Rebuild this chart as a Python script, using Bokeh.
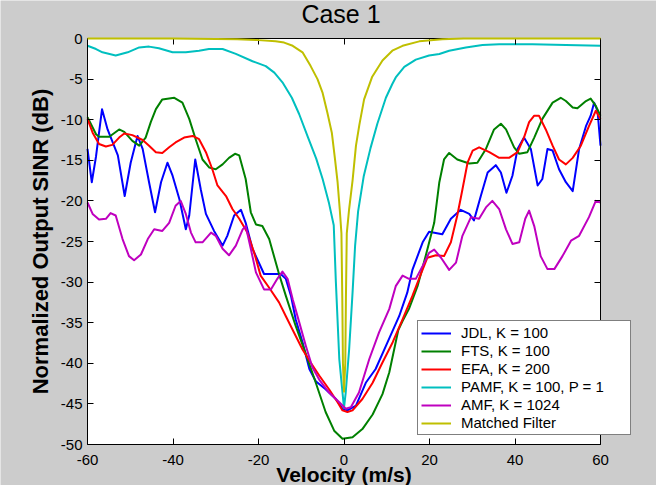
from bokeh.plotting import figure
from bokeh.models import (Range1d, LinearAxis, FixedTicker, Legend, LegendItem,
                          BoxAnnotation, Label)
from bokeh.core.properties import value
from bokeh.embed import file_html
from bokeh.resources import INLINE
import math

FONT = "Liberation Sans"

x_ticks = [-60, -40, -20, 0, 20, 40, 60]
y_ticks = [-50, -45, -40, -35, -30, -25, -20, -15, -10, -5, 0]

title_text = "Case 1"
x_label_text = "Velocity (m/s)"
y_label_text = "Normalized Output SINR (dB)"

series_names = ["JDL, K = 100", "FTS, K = 100", "EFA, K = 200",
                "PAMF, K = 100, P = 1", "AMF, K = 1024", "Matched Filter"]
series_colors = ["#0000ff", "#008000", "#ff0000", "#00bfbf", "#bf00bf", "#bfbf00"]

jdl_x = [-60, -59, -58, -56.6, -55.3, -52.9, -51.3, -49.9, -48.3, -47.1, -45.6, -44.2,
         -42.8, -41.3, -40.1, -38.5, -37, -36.2, -34.8, -33.5, -32.3, -30.4, -28.4,
         -27.3, -25.7, -24.1, -23, -21.4, -18.7, -14.8, -13.6, -12.4, -11.3, -9.7,
         -8.1, -6.6, -4.3, -1.9, -0.35, 0.8, 2.8, 5.1, 7.4, 10.2, 12.9, 14.8, 16,
         18.4, 19.9, 23, 25, 27.3, 29.3, 30.4, 32, 33.6, 35.5, 36.7, 38, 39.4, 40.6,
         42.1, 43.7, 45.3, 46.4, 47.6, 48.8, 50.3, 51.9, 53.5, 55, 56.6, 57.7, 58.5,
         59.3, 60]
jdl_y = [-13.6, -17.7, -14.5, -8.7, -11.2, -14.4, -19.4, -15.3, -12.0, -13.6, -17.7,
         -21.4, -17.7, -15.3, -16.9, -19.8, -23.5, -21.8, -14.9, -18.6, -21.6, -23.7,
         -25.5, -24.3, -21.8, -21.1, -22.7, -25.9, -29.0, -29.0, -29.6, -31.7, -34.6,
         -37.4, -40.7, -42.2, -43.2, -44.4, -45.6, -45.8, -45.2, -42.4, -40.7, -37.4,
         -34.2, -31.3, -28.5, -25.1, -23.8, -24.1, -22.2, -21.1, -21.6, -22.4, -19.4,
         -16.5, -15.6, -16.5, -19.0, -16.9, -13.6, -12.2, -13.6, -18.1, -17.3, -13.6,
         -13.8, -16.1, -17.7, -18.8, -13.6, -10.8, -9.5, -7.9, -8.9, -13.2]

fts_x = [-60, -58, -57.3, -54.9, -52.6, -51.4, -49.5, -47.9, -46.4, -45.2, -44, -42.5,
         -39.7, -37.8, -36.2, -34.7, -33.1, -31.5, -30, -28.4, -26.9, -25.5, -24.5,
         -23, -21.8, -20.6, -19.1, -17.5, -15.2, -13.6, -11.3, -8.9, -6.6, -4.3,
         -2.3, -0.35, 2, 4.3, 6.7, 9, 10.6, 12.7, 13.7, 15.2, 17.2, 19.1, 21.1, 22.3,
         23.4, 24.6, 26.5, 29.3, 31.2, 33.2, 35.1, 36.7, 37.9, 39.8, 41, 42.9, 44.5,
         46.4, 48.8, 50.7, 51.9, 53.5, 54.6, 56.6, 57.7, 58.9, 60]
fts_y = [-9.7, -11.8, -12.1, -12.1, -11.2, -11.5, -12.6, -13.2, -12.2, -10.3, -8.7,
         -7.5, -7.3, -7.9, -9.9, -12.4, -14.9, -15.9, -16.1, -15.5, -14.7, -14.2,
         -14.4, -17.3, -21.4, -22.9, -23.1, -24.7, -29.0, -31.7, -35.4, -38.9, -42.4,
         -46.0, -48.3, -49.3, -49.1, -48.1, -46.3, -43.8, -41.1, -35.9, -34.8, -33.3,
         -30.5, -26.8, -22.7, -17.7, -14.9, -14.1, -14.9, -15.4, -15.3, -13.6, -11.2,
         -10.5, -11.2, -13.4, -14.2, -14.0, -12.2, -9.9, -7.9, -7.3, -7.7, -8.5, -8.6,
         -7.7, -7.4, -8.3, -9.5]

efa_x = [-60, -58.8, -57.3, -55.7, -54.2, -52.6, -51.4, -49.5, -47.1, -45.6, -44, -42.5,
         -40.9, -39.4, -37.4, -35.4, -33.9, -32.3, -30.8, -29.6, -27.6, -26.1, -24.5,
         -22.6, -21.0, -19.5, -17.5, -15.2, -13.6, -11.7, -9.7, -7.8, -5.8, -3.5, -1.5,
         -0.35, 0.8, 2, 4.3, 6.7, 9, 11.4, 13.7, 16, 18, 19.5, 21.5, 23.4, 25, 26.5,
         27.7, 28.9, 30.1, 31.6, 34, 36.3, 38.6, 40.6, 42.1, 43.3, 44.5, 45.6, 47.2,
         48.8, 50.3, 51.9, 53.5, 55.4, 57.3, 58.9, 60]
efa_y = [-9.9, -11.6, -13.0, -13.3, -13.1, -12.2, -11.7, -11.9, -12.5, -13.2, -14.0,
         -14.1, -13.4, -12.8, -12.2, -12.0, -12.4, -14.0, -16.1, -18.1, -19.4, -21.0,
         -22.2, -23.9, -26.4, -29.2, -30.7, -32.5, -34.2, -36.2, -38.3, -39.9, -41.5,
         -43.2, -44.8, -45.8, -46.0, -45.8, -44.4, -42.4, -39.9, -37.4, -34.6, -31.7,
         -29.0, -27.0, -26.7, -26.8, -25.1, -21.8, -18.6, -15.3, -13.8, -13.4, -14.0,
         -14.7, -14.7, -14.0, -12.2, -10.3, -9.5, -9.5, -11.2, -13.2, -14.9, -15.5,
         -14.7, -13.2, -10.8, -8.9, -9.9]

pamf_x = [-60, -58, -56.5, -53.4, -50.6, -47.9, -45.6, -43.3, -40.1, -37, -33.9, -31.6,
          -28.4, -25.3, -21.4, -18.3, -16.3, -14.4, -12.2, -10.5, -8.4, -6.5, -5.0,
          -3.5, -2.4, -1.9, -1.1, -0.35, 0, 0.4, 1.2, 2.0, 2.6, 3.3, 4.6, 6.2, 7.8,
          9.8, 11.3, 12.1, 14.1, 16.8, 19.9, 22.3, 24.6, 28.5, 32.4, 36.3, 44.1, 51.9, 60]
pamf_y = [-0.9, -1.3, -1.7, -2.1, -1.7, -1.1, -1.0, -1.2, -1.7, -1.7, -1.5, -1.3, -1.3,
          -1.9, -2.8, -3.4, -4.2, -5.4, -7.3, -9.3, -12.2, -14.8, -17.3, -20.3, -23.0,
          -30.0, -39.5, -43.6, -45.5, -43.6, -38.3, -31.3, -25.5, -21.3, -17.0, -13.5,
          -10.5, -7.3, -5.6, -4.8, -3.5, -2.6, -2.1, -1.9, -1.5, -1.1, -0.8, -0.7, -0.7,
          -0.8, -0.9]

amf_x = [-60, -58.8, -57.3, -55.7, -54.6, -53.4, -51.8, -50.3, -49.1, -47.5, -45.9,
         -44.4, -42.5, -40.9, -39.4, -38.2, -37, -35.8, -34.7, -33.1, -31.1, -30, -28.4,
         -26.9, -25.3, -23.7, -23, -21.8, -20.6, -18.7, -17.1, -15.6, -14.4, -13.2, -12,
         -10.5, -8.9, -7.4, -5.8, -3.5, -1.1, 0.4, 1.6, 3.5, 5.9, 8.2, 10.6, 12.1, 13.7,
         15.2, 16.8, 18.4, 19.9, 21.1, 22.7, 24.6, 26.2, 27.7, 29.7, 31.6, 33.2, 34.7,
         36.3, 37.9, 39.4, 41, 42.4, 43.3, 44.5, 46, 47.6, 49.2, 51.1, 53.1, 55, 57.3,
         58.9, 60]
amf_y = [-20.2, -21.6, -22.3, -22.2, -21.5, -21.8, -24.7, -26.8, -27.3, -26.6, -24.7,
         -23.5, -23.7, -22.7, -20.6, -20.0, -21.6, -23.9, -25.1, -25.1, -23.9, -24.3,
         -25.9, -26.7, -25.5, -23.5, -23.1, -25.9, -28.8, -30.9, -30.9, -29.6, -28.7,
         -29.6, -32.1, -34.9, -37.9, -40.5, -42.0, -43.6, -44.8, -45.6, -45.4, -43.6,
         -39.5, -36.2, -33.3, -30.5, -29.2, -29.6, -29.6, -28.0, -26.4, -26.0, -27.0,
         -28.5, -27.6, -24.3, -22.0, -22.2, -20.8, -20.0, -21.0, -23.5, -25.3, -25.1,
         -22.2, -21.2, -23.1, -26.8, -28.4, -28.4, -26.8, -24.9, -24.3, -22.0, -20.0,
         -20.2]

mf_x = [-60, -40, -30, -25, -20, -16, -14, -12, -9.7, -7.8, -6.2, -5.0, -3.9, -2.85,
        -2.1, -1.5, -1.0, -0.6, -0.4, -0.25, 0, 0.3, 0.45, 0.65, 1.2, 2.0, 2.8, 3.6,
        4.7, 6.6, 9.0, 11.3, 13.7, 17.6, 23, 28, 60]
mf_y = [0, 0, -0.05, -0.1, -0.2, -0.35, -0.5, -0.9, -1.7, -3.4, -5.0, -6.7, -9.1, -11.6,
        -14.9, -17.7, -21.0, -24.0, -32.0, -40.0, -43.5, -40.0, -32.0, -24.0, -21.0,
        -17.5, -13.2, -10.6, -7.5, -4.7, -2.7, -1.5, -0.9, -0.35, -0.1, 0, 0]

series_x = [jdl_x, fts_x, efa_x, pamf_x, amf_x, mf_x]
series_y = [jdl_y, fts_y, efa_y, pamf_y, amf_y, mf_y]

# ---- layout (canvas pixels) ----
FIG_W, FIG_H = 656, 485
BOX_L, BOX_R, BOX_T, BOX_B = 87, 600, 38, 444      # the axes box inside the canvas
GRAY = "#cccccc"

x_lo, x_hi = x_ticks[0], x_ticks[-1]
y_lo, y_hi = y_ticks[0], y_ticks[-1]
ppx = (BOX_R - BOX_L) / (x_hi - x_lo)               # pixels per x unit
ppy = (BOX_B - BOX_T) / (y_hi - y_lo)               # pixels per y unit
# the frame covers the whole canvas, so nothing (legend, labels) gets clipped
x_range = Range1d(x_lo - BOX_L / ppx, x_hi + (FIG_W - BOX_R) / ppx)
y_range = Range1d(y_lo - (FIG_H - BOX_B) / ppy, y_hi + BOX_T / ppy)

p = figure(width=FIG_W, height=FIG_H, output_backend="svg", toolbar_location=None,
           x_range=x_range, y_range=y_range,
           min_border_left=0, min_border_right=0, min_border_top=0, min_border_bottom=0,
           background_fill_color=GRAY, border_fill_color=GRAY,
           x_axis_location=None, y_axis_location=None)
p.grid.visible = False
p.outline_line_color = None

# white axes area
p.add_layout(BoxAnnotation(left=x_lo, right=x_hi, bottom=y_lo, top=y_hi,
                           fill_color="white", fill_alpha=1.0,
                           line_color=None, level="underlay"))


def make_axis(ticks, bounds, loc):
    ax = LinearAxis(fixed_location=loc)
    ax.ticker = FixedTicker(ticks=ticks)
    ax.bounds = bounds
    ax.major_tick_in = 6
    ax.major_tick_out = 0
    ax.minor_tick_line_color = None
    ax.axis_line_color = "black"
    ax.axis_line_width = 1
    ax.major_tick_line_color = "black"
    ax.major_label_text_font_size = "0px"
    ax.major_label_text_color = None
    ax.major_label_standoff = 0
    return ax


p.add_layout(make_axis(x_ticks, (x_lo, x_hi), y_lo), "below")
p.add_layout(make_axis(x_ticks, (x_lo, x_hi), y_hi), "above")
p.add_layout(make_axis(y_ticks, (y_lo, y_hi), x_lo), "left")
p.add_layout(make_axis(y_ticks, (y_lo, y_hi), x_hi), "right")

# tick labels
p.text(x=x_ticks, y=[y_lo] * len(x_ticks), text=[str(t) for t in x_ticks],
       text_font=value(FONT), text_font_size="15px", text_color="black",
       text_align="center", text_baseline="alphabetic", y_offset=15)
p.text(x=[x_lo] * len(y_ticks), y=y_ticks, text=[str(t) for t in y_ticks],
       text_font=value(FONT), text_font_size="15px", text_color="black",
       text_align="right", text_baseline="middle", x_offset=-5)

# title and axis labels
p.add_layout(Label(x=-0.7, y=FIG_H - 13, x_units="data", y_units="screen", text=title_text,
                   text_font=FONT, text_font_size="25px", text_font_style="normal",
                   text_color="black", text_align="center", text_baseline="alphabetic"))
p.add_layout(Label(x=0, y=FIG_H - 474, x_units="data", y_units="screen", text=x_label_text,
                   text_font=FONT, text_font_size="21px", text_font_style="bold",
                   text_color="black", text_align="center", text_baseline="alphabetic"))
p.add_layout(Label(x=40, y=(y_lo + y_hi) / 2, x_units="screen", y_units="data",
                   text=y_label_text, angle=math.pi / 2,
                   text_font=FONT, text_font_size="22px", text_font_style="bold",
                   text_color="black", text_align="center", text_baseline="alphabetic"))

renderers = []
for xs, ys, c in zip(series_x, series_y, series_colors):
    r = p.line(xs, ys, line_color=c, line_width=2, line_join="round")
    renderers.append(r)
renderers[-1].level = "overlay"     # matched filter drawn over the top box edge

legend = Legend(items=[LegendItem(label=n, renderers=[r]) for n, r in zip(series_names, renderers)],
                location=(417, 50), orientation="vertical",
                label_text_font=FONT, label_text_font_size="15px", label_text_color="black",
                glyph_width=30, glyph_height=16, label_height=16, label_width=166,
                label_standoff=10, spacing=1, padding=3, margin=0,
                border_line_color="black", border_line_width=1,
                background_fill_color="white", background_fill_alpha=1.0)
p.add_layout(legend)

open("out.html", "w").write(file_html(p, INLINE))
